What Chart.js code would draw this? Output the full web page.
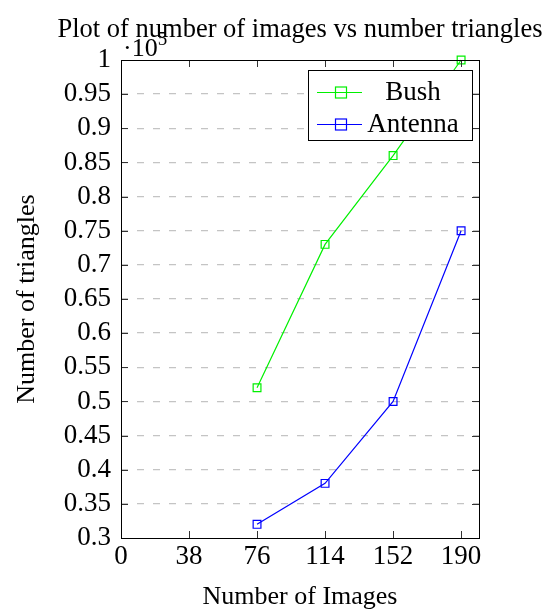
<!DOCTYPE html>
<html>
<head>
<meta charset="utf-8">
<script src="https://cdn.jsdelivr.net/npm/chart.js@4"></script>
<style>
  html, body { margin: 0; padding: 0; background: #fff; }
  canvas { display: block; }
</style>
</head>
<body>
<canvas id="chart" width="551" height="613"></canvas>
<script>
const FONT = "'Liberation Serif', 'Times New Roman', serif";

const images = [76, 114, 152, 190];
const bushTriangles = [0.52, 0.73, 0.86, 1.0];
const antennaTriangles = [0.32, 0.38, 0.5, 0.75];
const xTicks = [0, 38, 76, 114, 152, 190];
const titleText = 'Plot of number of images vs number triangles';
const multiplierBase = '·10';
const multiplierExp = '5';

function toPoints(xs, ys) {
  return xs.map((x, i) => ({ x, y: ys[i] }));
}

// frame, inward tick marks, title, multiplier and the pgfplots-like legend
const decorations = {
  id: 'decorations',
  afterDraw(chart) {
    const ctx = chart.ctx;
    const area = chart.chartArea;
    const xs = chart.scales.x;
    const ys = chart.scales.y;
    ctx.save();
    ctx.strokeStyle = '#333';
    ctx.lineWidth = 1;
    ctx.beginPath();
    xTicks.forEach((t) => {
      const px = Math.round(xs.getPixelForValue(t)) + 0.5;
      ctx.moveTo(px, area.bottom);
      ctx.lineTo(px, area.bottom - 7);
      ctx.moveTo(px, area.top);
      ctx.lineTo(px, area.top + 7);
    });
    ys.ticks.forEach((t) => {
      const py = Math.round(ys.getPixelForValue(t.value)) + 0.5;
      ctx.moveTo(area.left, py);
      ctx.lineTo(area.left + 7, py);
      ctx.moveTo(area.right, py);
      ctx.lineTo(area.right - 7, py);
    });
    ctx.stroke();
    ctx.strokeStyle = '#000';
    ctx.strokeRect(Math.round(area.left) + 0.5, Math.round(area.top) + 0.5,
      Math.round(area.right - area.left), Math.round(area.bottom - area.top));

    ctx.fillStyle = '#000';
    ctx.textBaseline = 'alphabetic';
    ctx.textAlign = 'center';
    ctx.font = '26.5px ' + FONT;
    ctx.fillText(titleText, (area.left + area.right) / 2, 37);

    ctx.textAlign = 'left';
    ctx.font = '26px ' + FONT;
    ctx.fillText(multiplierBase, area.left + 2, 56);
    const w = ctx.measureText(multiplierBase).width;
    ctx.font = '19px ' + FONT;
    ctx.fillText(multiplierExp, area.left + 2 + w, 45);

    // legend
    const lx = area.right - 171, ly = area.top + 10, lw = 164, lh = 70;
    ctx.fillStyle = '#fff';
    ctx.fillRect(lx, ly, lw, lh);
    ctx.strokeStyle = '#000';
    ctx.strokeRect(lx + 0.5, ly + 0.5, lw, lh);
    chart.data.datasets.forEach((ds, i) => {
      const cy = ly + 22 + i * 32;
      ctx.strokeStyle = ds.borderColor;
      ctx.lineWidth = 1.2;
      ctx.beginPath();
      ctx.moveTo(lx + 9, cy + 0.5);
      ctx.lineTo(lx + 54, cy + 0.5);
      ctx.stroke();
      ctx.strokeRect(lx + 27.5, cy - 5, 11, 11);
      ctx.fillStyle = '#000';
      ctx.font = '27px ' + FONT;
      ctx.textAlign = 'center';
      ctx.textBaseline = 'middle';
      ctx.fillText(ds.label, lx + 105, cy + 1);
    });
    ctx.restore();
  },
};

new Chart(document.getElementById('chart'), {
  type: 'line',
  data: {
    datasets: [
      {
        label: 'Bush',
        data: toPoints(images, bushTriangles),
        borderColor: '#00f000',
        backgroundColor: 'transparent',
        borderWidth: 1.2,
        pointStyle: 'rect',
        pointRadius: 5.5,
        pointBorderWidth: 1.2,
        pointBackgroundColor: 'transparent',
        tension: 0,
      },
      {
        label: 'Antenna',
        data: toPoints(images, antennaTriangles),
        borderColor: '#0000ff',
        backgroundColor: 'transparent',
        borderWidth: 1.2,
        pointStyle: 'rect',
        pointRadius: 5.5,
        pointBorderWidth: 1.2,
        pointBackgroundColor: 'transparent',
        tension: 0,
      },
    ],
  },
  options: {
    responsive: false,
    animation: false,
    clip: false,
    layout: { padding: { top: 60, right: 72, left: 0, bottom: 0 } },
    plugins: {
      legend: { display: false },
      title: { display: false },
      tooltip: { enabled: false },
    },
    scales: {
      x: {
        type: 'linear',
        min: 0,
        max: 200,
        afterBuildTicks: (scale) => { scale.ticks = xTicks.map((v) => ({ value: v })); },
        afterFit: (scale) => { scale.height = 75; },
        grid: { display: false, drawTicks: false },
        border: { display: false },
        ticks: { color: '#000', font: { family: FONT, size: 27 }, padding: 3, maxRotation: 0, autoSkip: false },
        title: { display: true, text: 'Number of Images', color: '#000', font: { family: FONT, size: 26 }, padding: { top: 0, bottom: 0 } },
      },
      y: {
        min: 0.3,
        max: 1,
        afterBuildTicks: (scale) => {
          const t = [];
          for (let i = 0; i <= 14; i++) t.push({ value: Number((0.3 + i * 0.05).toFixed(2)) });
          scale.ticks = t;
        },
        afterFit: (scale) => { scale.width = 121; },
        grid: {
          color: (c) => (c.tick && (c.tick.value === 0.3 || c.tick.value === 1) ? 'transparent' : '#c4c4c4'),
          drawTicks: false,
          lineWidth: 1.3,
        },
        border: { display: false, dash: [7, 9] },
        ticks: {
          color: '#000',
          font: { family: FONT, size: 27 },
          padding: 10,
          autoSkip: false,
          callback: (v) => String(Number(v.toFixed(2))),
        },
        title: { display: true, text: 'Number of triangles', color: '#000', font: { family: FONT, size: 26 }, padding: { top: 12, bottom: 0 } },
      },
    },
  },
  plugins: [decorations],
});
</script>
</body>
</html>
